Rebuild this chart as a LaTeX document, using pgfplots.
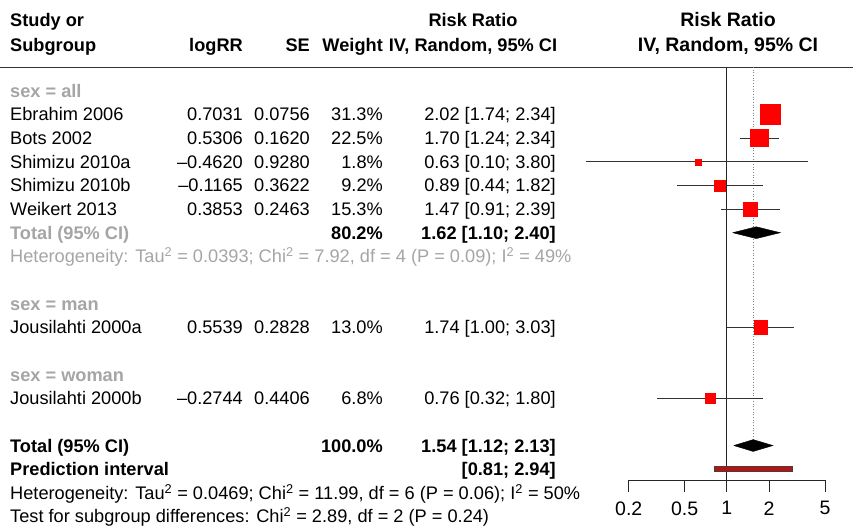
\documentclass[border=0pt]{standalone}
\usepackage{pgfplots}
\pgfplotsset{compat=1.18}
\usepackage{pgfplotstable}
\usepackage{fontspec}
\setmainfont{Liberation Sans}
\definecolor{sg}{RGB}{165,165,165}
\definecolor{sqred}{RGB}{255,0,0}
\definecolor{pired}{RGB}{185,18,18}
\definecolor{cil}{RGB}{50,50,50}
\newcommand\fs{\fontsize{18.2bp}{22bp}\selectfont}
\newcommand\Lt[3][]{\node[anchor=base west,inner sep=0pt,font=\fs,#1] at (10,{430.7-23.65*(#2)}) {#3};}
\newcommand\Rt[4][]{\node[anchor=base east,inner sep=0pt,font=\fs,#1] at (#2,{430.7-23.65*(#3)}) {#4};}
\newcommand\sq{\textsuperscript{2}}
\pgfplotstableread{
k rr hs
-1 2.02 10.0
-2 1.70 8.6
-3 0.63 3.0
-4 0.89 5.7
-5 1.47 7.0
-10 1.74 6.7
-13 0.76 4.8
}\studies
\begin{document}
\begin{tikzpicture}[x=1bp,y=1bp]
\useasboundingbox (0,0) rectangle (853,528);
% header
\node[anchor=base west,inner sep=0pt,font=\fs\bfseries] at (10,501.5) {Study or};
\node[anchor=base west,inner sep=0pt,font=\fs\bfseries] at (10,476.5) {Subgroup};
\node[anchor=base east,inner sep=0pt,font=\fs\bfseries] at (243,476.5) {logRR};
\node[anchor=base east,inner sep=0pt,font=\fs\bfseries] at (310,476.5) {SE};
\node[anchor=base east,inner sep=0pt,font=\fs\bfseries] at (383,476.5) {Weight};
\node[anchor=base,inner sep=0pt,font=\fs\bfseries] at (473,501.5) {Risk Ratio};
\node[anchor=base,inner sep=0pt,font=\fs\bfseries] at (473,476.5) {IV, Random, 95\% CI};
\node[anchor=base,inner sep=0pt,font=\fontsize{19.5bp}{23bp}\selectfont\bfseries] at (728,501.5) {Risk Ratio};
\node[anchor=base,inner sep=0pt,font=\fontsize{19.5bp}{23bp}\selectfont\bfseries] at (728,476.5) {IV, Random, 95\% CI};
\draw[line width=0.8bp, black!80] (0,461) -- (853,461);
% rows
\Lt[text=sg,font=\fs\bfseries]{0}{sex = all}
\Lt{1}{Ebrahim 2006}\Rt{243}{1}{0.7031}\Rt{310}{1}{0.0756}\Rt{383}{1}{31.3\%}\Rt{556}{1}{2.02 [1.74; 2.34]}
\Lt{2}{Bots 2002}\Rt{243}{2}{0.5306}\Rt{310}{2}{0.1620}\Rt{383}{2}{22.5\%}\Rt{556}{2}{1.70 [1.24; 2.34]}
\Lt{3}{Shimizu 2010a}\Rt{243}{3}{–0.4620}\Rt{310}{3}{0.9280}\Rt{383}{3}{1.8\%}\Rt{556}{3}{0.63 [0.10; 3.80]}
\Lt{4}{Shimizu 2010b}\Rt{243}{4}{–0.1165}\Rt{310}{4}{0.3622}\Rt{383}{4}{9.2\%}\Rt{556}{4}{0.89 [0.44; 1.82]}
\Lt{5}{Weikert 2013}\Rt{243}{5}{0.3853}\Rt{310}{5}{0.2463}\Rt{383}{5}{15.3\%}\Rt{556}{5}{1.47 [0.91; 2.39]}
\Lt[text=sg,font=\fs\bfseries]{6}{Total (95\% CI)}\Rt[font=\fs\bfseries]{383}{6}{80.2\%}\Rt[font=\fs\bfseries]{556}{6}{1.62 [1.10; 2.40]}
\Lt[text=sg]{7}{Heterogeneity: Tau\sq{} = 0.0393; Chi\sq{} = 7.92, df = 4 (P = 0.09); I\sq{} = 49\%}
\Lt[text=sg,font=\fs\bfseries]{9}{sex = man}
\Lt{10}{Jousilahti 2000a}\Rt{243}{10}{0.5539}\Rt{310}{10}{0.2828}\Rt{383}{10}{13.0\%}\Rt{556}{10}{1.74 [1.00; 3.03]}
\Lt[text=sg,font=\fs\bfseries]{12}{sex = woman}
\Lt{13}{Jousilahti 2000b}\Rt{243}{13}{–0.2744}\Rt{310}{13}{0.4406}\Rt{383}{13}{6.8\%}\Rt{556}{13}{0.76 [0.32; 1.80]}
\Lt[font=\fs\bfseries]{15}{Total (95\% CI)}\Rt[font=\fs\bfseries]{383}{15}{100.0\%}\Rt[font=\fs\bfseries]{556}{15}{1.54 [1.12; 2.13]}
\Lt[font=\fs\bfseries]{16}{Prediction interval}\Rt[font=\fs\bfseries]{556}{16}{[0.81; 2.94]}
\Lt{17}{Heterogeneity: Tau\sq{} = 0.0469; Chi\sq{} = 11.99, df = 6 (P = 0.06); I\sq{} = 50\%}
\Lt{18}{Test for subgroup differences: Chi\sq{} = 2.89, df = 2 (P = 0.24)}
\begin{axis}[
  at={(628.7bp,48bp)}, anchor=south west,
  scale only axis, width=196.3bp, height=413bp,
  xmode=log, xmin=0.2, xmax=5,
  ymin=-16.457, ymax=1.006,
  clip=false,
  axis x line*=bottom, axis y line=none,
  xtick={0.2,0.5,1,2,5}, xticklabels={0.2,0.5,1,2,5},
  minor xtick={},
  xtick align=outside, major tick length=12bp,
  xticklabel style={font=\fontsize{19.5bp}{23bp}\selectfont, yshift=-6bp},
  x axis line style={-, line width=0.8bp, black!85},
  tick style={line width=0.8bp, black!85},
]
\addplot[line width=0.8bp, black!85] coordinates {(1,1.006) (1,-16.457)};
\addplot[gray, dotted, line width=0.7bp] coordinates {(1.54,1.006) (1.54,-14.75)};
% squares
\addplot[scatter, only marks, mark=square*,
  scatter/use mapped color={draw=sqred, fill=sqred},
  visualization depends on={\thisrow{hs} \as \hs},
  scatter/@pre marker code/.append style={/tikz/mark size=\hs}]
  table[x=rr, y=k] {\studies};
% confidence intervals
\addplot[line width=0.7bp, white, opacity=0.8] coordinates {(1.74,-1) (2.34,-1)};
\addplot[cil, line width=0.7bp] coordinates {(1.24,-2) (2.34,-2)};
\addplot[cil, line width=0.7bp] coordinates {(0.10,-3) (3.80,-3)};
\addplot[cil, line width=0.7bp] coordinates {(0.44,-4) (1.82,-4)};
\addplot[cil, line width=0.7bp] coordinates {(0.91,-5) (2.39,-5)};
\addplot[cil, line width=0.7bp] coordinates {(1.00,-10) (3.03,-10)};
\addplot[cil, line width=0.7bp] coordinates {(0.32,-13) (1.80,-13)};
% diamonds
\addplot[fill=black, draw=black] coordinates {(1.10,-6) (1.62,-5.75) (2.40,-6) (1.62,-6.25) (1.10,-6)};
\addplot[fill=black, draw=black] coordinates {(1.12,-15) (1.54,-14.75) (2.13,-15) (1.54,-15.25) (1.12,-15)};
% prediction interval
\addplot[fill=pired, draw=black!75, line width=0.7bp] coordinates {(0.81,-15.9) (2.94,-15.9) (2.94,-16.1) (0.81,-16.1) (0.81,-15.9)};
\end{axis}
\end{tikzpicture}
\end{document}
